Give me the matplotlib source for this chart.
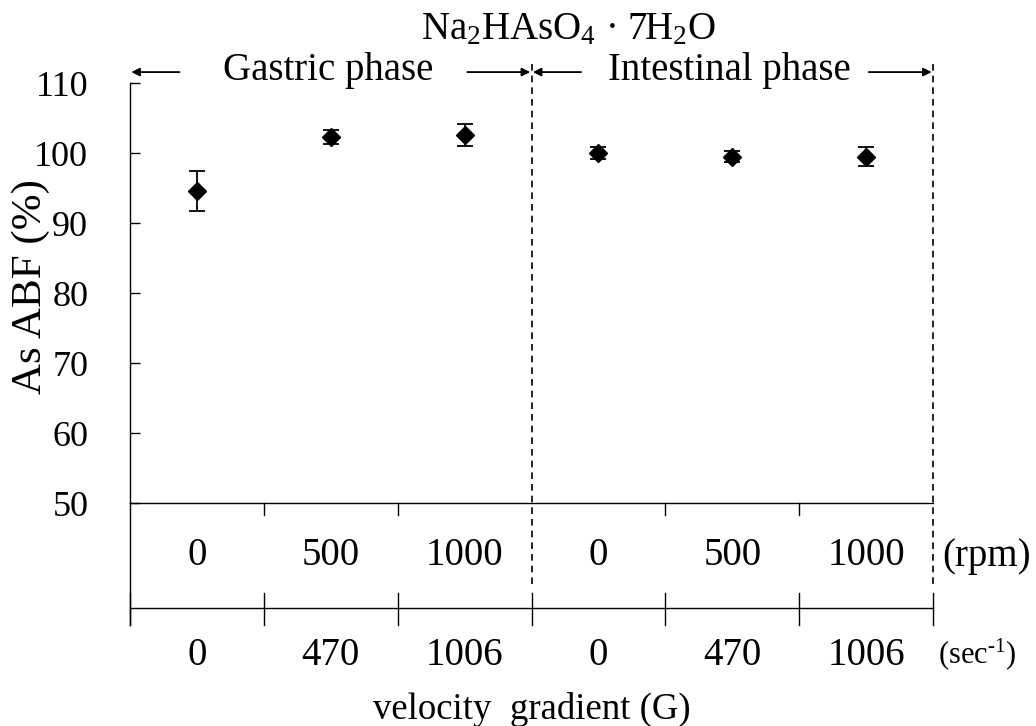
import matplotlib
matplotlib.use('Agg')
import matplotlib.pyplot as plt
import numpy as np

# datos
rpm_labels = ['0', '500', '1000', '0', '500', '1000']
g_labels = ['0', '470', '1006', '0', '470', '1006']
abf = [94.6, 102.3, 102.6, 100.0, 99.5, 99.5]
abf_err = [2.9, 1.0, 1.6, 0.8, 0.8, 1.4]
fases = ['Gastric phase', 'Intestinal phase']

plt.rcParams['font.family'] = ['Liberation Serif', 'DejaVu Serif']
plt.rcParams['mathtext.fontset'] = 'custom'
plt.rcParams['mathtext.rm'] = 'Liberation Serif'
plt.rcParams['mathtext.default'] = 'regular'

FS = 28
fig = plt.figure(figsize=(10.36, 7.26), dpi=100)
ax = fig.add_axes([130 / 1036, 1 - 503 / 726, 803 / 1036, 420 / 726])

n = len(abf)
x = np.arange(n) + 0.5
ax.errorbar(x, abf, yerr=abf_err, fmt='D', color='black', markersize=9.5,
            capsize=6, elinewidth=1.3, capthick=1.3, zorder=5)

ax.set_xlim(0, n)
ax.set_ylim(50, 110)
ax.set_yticks(np.arange(50, 111, 10))
ax.tick_params(axis='y', direction='in', length=7, width=1, labelsize=26, pad=30)
ax.set_xticks([])
for s in ['top', 'right']:
    ax.spines[s].set_visible(False)
ax.spines['left'].set_linewidth(1.0)
ax.spines['bottom'].set_linewidth(1.0)
ax.set_ylabel('As ABF (%)', fontsize=31, va='center')
ax.yaxis.set_label_coords(-0.124, 0.515)

tr = ax.get_xaxis_transform()
kw = dict(color='black', lw=1.0, transform=tr, clip_on=False)

# ticks internos en el eje de rpm
for xi in [1, 2, 4, 5]:
    ax.plot([xi, xi], [0, -0.029], **kw)
# linea vertical izquierda
ax.plot([0, 0], [0, -0.29], **kw)
# eje de velocity gradient
ax.plot([0, n], [-0.25, -0.25], **kw)
for xi in range(n + 1):
    ax.plot([xi, xi], [-0.214, -0.29], **kw)
# separadores de fase
for xi in [3, 6]:
    ax.plot([xi, xi], [1.045, -0.2], color='black', lw=1.2, ls=(0, (4, 3)),
            transform=tr, clip_on=False)

# etiquetas de rpm y G
for xi, r, g in zip(x, rpm_labels, g_labels):
    ax.text(xi, -0.126, r, ha='center', va='center', fontsize=FS, transform=tr)
    ax.text(xi, -0.362, g, ha='center', va='center', fontsize=FS, transform=tr)
ax.text(6.07, -0.128, '(rpm)', ha='left', va='center', fontsize=FS, transform=tr)
ax.text(6.04, -0.36, '(sec$^{\u20101}$)', ha='left', va='center', fontsize=22,
        transform=tr)
ax.text(3, -0.492, 'velocity  gradient (G)', ha='center', va='center',
        fontsize=26.5, transform=tr)

# fases con flechas
ap = dict(arrowstyle='-|>', color='black', lw=1.3, mutation_scale=12,
          shrinkA=0, shrinkB=0)
for k, fase in enumerate(fases):
    x0 = 3 * k
    ax.text(x0 + 1.48, 1.03, fase, ha='center', va='center', fontsize=FS, transform=tr)
    ax.annotate('', xy=(x0 + 0.01, 1.026), xytext=(x0 + 0.37, 1.026),
                xycoords=tr, textcoords=tr, arrowprops=ap)
    ax.annotate('', xy=(x0 + 2.99, 1.026), xytext=(x0 + 2.52, 1.026),
                xycoords=tr, textcoords=tr, arrowprops=ap)

ax.text(3.28, 1.127, r'Na$_2$HAsO$_4$ · 7H$_2$O', ha='center', va='center',
        fontsize=FS, transform=tr)

plt.savefig('out.png', dpi=100)
